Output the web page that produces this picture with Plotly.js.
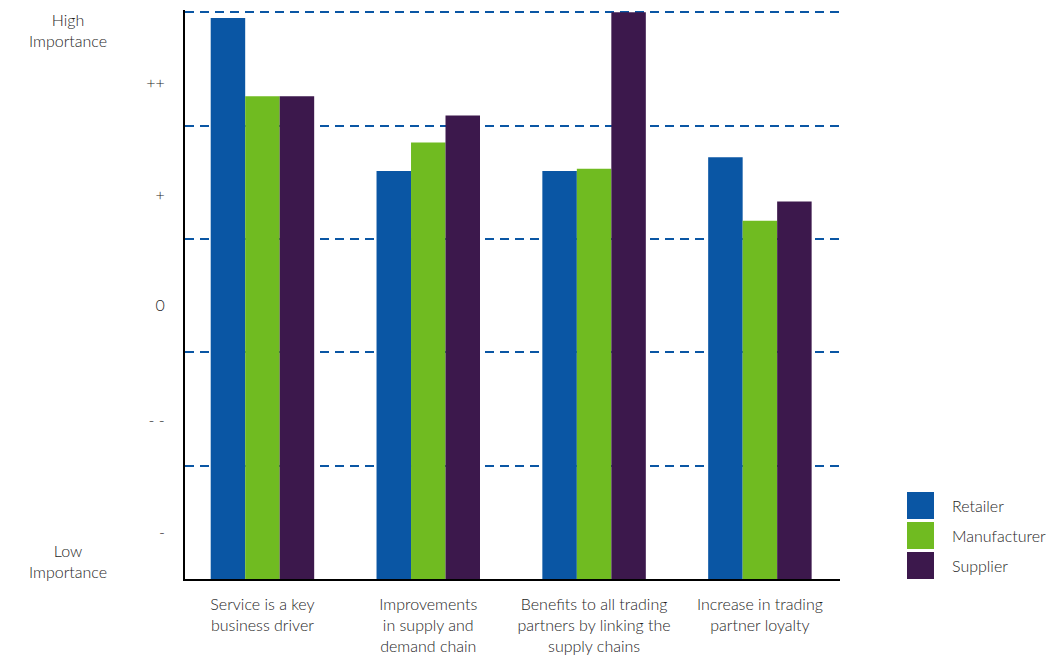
<!DOCTYPE html>
<html>
<head>
<meta charset="utf-8">
<script src="https://cdn.plot.ly/plotly-3.0.1.min.js"></script>
<style>html,body{margin:0;padding:0;background:#fff;}#chart{width:1059px;height:660px;}</style>
</head>
<body>
<div id="chart"></div>
<script>
const categories = [
  "Service is a key<br>business driver",
  "Improvements<br>in supply and<br>demand chain",
  "Benefits to all trading<br>partners by linking the<br>supply chains",
  "Increase in trading<br>partner loyalty"
];
const seriesNames = ["Retailer", "Manufacturer", "Supplier"];
const retailer = [4.95, 3.60, 3.60, 3.72];
const manufacturer = [4.26, 3.85, 3.62, 3.16];
const supplier = [4.26, 4.09, 5.00, 3.33];
const seriesColors = ["#0a56a4", "#70bb21", "#3c184c"];
const yTickVals = [0.41, 1.40, 2.41, 3.38, 4.37];
const yTickText = ["-", "- -", "0", "+", "++"];
const gridVals = [1, 2, 3, 4, 5];
const endLabels = [
  {text: "High<br>Importance", y: 4.84},
  {text: "Low<br>Importance", y: 0.16}
];

const W = 1059, H = 660;
const M = {l: 185, r: 219, t: 10, b: 81};
const YMAX = 5.02;
const px2x = p => (p - M.l) / (W - M.l - M.r);
const px2y = p => (H - M.b - p) / (H - M.t - M.b);

const FONT = "Lato, 'Open Sans', sans-serif";
const TXT = "#1e1e1e";
const WEIGHT = 300;

const values = [retailer, manufacturer, supplier];
const traces = values.map((v, i) => ({
  type: "bar",
  name: seriesNames[i],
  x: categories,
  y: v,
  marker: {color: seriesColors[i], line: {width: 0}},
  showlegend: false,
  hoverinfo: "skip"
}));
traces.push({type: "scatter", x: [], y: [], yaxis: "y2", showlegend: false, hoverinfo: "skip"});

const shapes = [];
const annotations = [];
seriesNames.forEach((n, i) => {
  const top = 492 + i * 30;
  shapes.push({
    type: "rect", xref: "paper", yref: "paper",
    x0: px2x(907), x1: px2x(934), y0: px2y(top + 27), y1: px2y(top),
    fillcolor: seriesColors[i], line: {width: 0}
  });
  annotations.push({
    xref: "paper", yref: "paper", x: px2x(950), y: px2y(top + 13.5),
    xanchor: "left", yanchor: "middle", showarrow: false,
    text: n, font: {family: FONT, size: 16, color: TXT, weight: WEIGHT}
  });
});
endLabels.forEach(l => {
  annotations.push({
    xref: "paper", yref: "y", x: px2x(68), y: l.y,
    xanchor: "center", yanchor: "middle", showarrow: false, align: "center",
    text: l.text, font: {family: FONT, size: 16, color: TXT, weight: WEIGHT}
  });
});

const layout = {
  width: W, height: H,
  margin: M,
  paper_bgcolor: "#fff", plot_bgcolor: "#fff",
  barmode: "group", bargap: 0.376, bargroupgap: 0,
  font: {family: FONT, size: 16, color: TXT, weight: WEIGHT},
  xaxis: {
    type: "category", range: [-0.467, 3.483],
    showline: true, linecolor: "#000", linewidth: 2,
    showgrid: false, zeroline: false, ticks: "",
    tickfont: {family: FONT, size: 16, color: TXT, weight: WEIGHT},
    ticklabelstandoff: 10,
    fixedrange: true
  },
  yaxis: {
    range: [0, YMAX], showgrid: false, zeroline: false,
    showline: true, linecolor: "#000", linewidth: 2,
    ticks: "", tickmode: "array", tickvals: yTickVals, ticktext: yTickText,
    tickfont: {family: FONT, size: 16, color: TXT, weight: WEIGHT},
    ticklabelstandoff: 15,
    fixedrange: true
  },
  yaxis2: {
    overlaying: "y", range: [0, YMAX], showticklabels: false,
    tickmode: "array", tickvals: gridVals, ticks: "",
    showgrid: true, gridcolor: "#0a56a4", gridwidth: 2, griddash: "9px,6px",
    zeroline: false, showline: false, fixedrange: true
  },
  shapes: shapes,
  annotations: annotations
};

Plotly.newPlot("chart", traces, layout, {displayModeBar: false, staticPlot: true});
</script>
</body>
</html>
